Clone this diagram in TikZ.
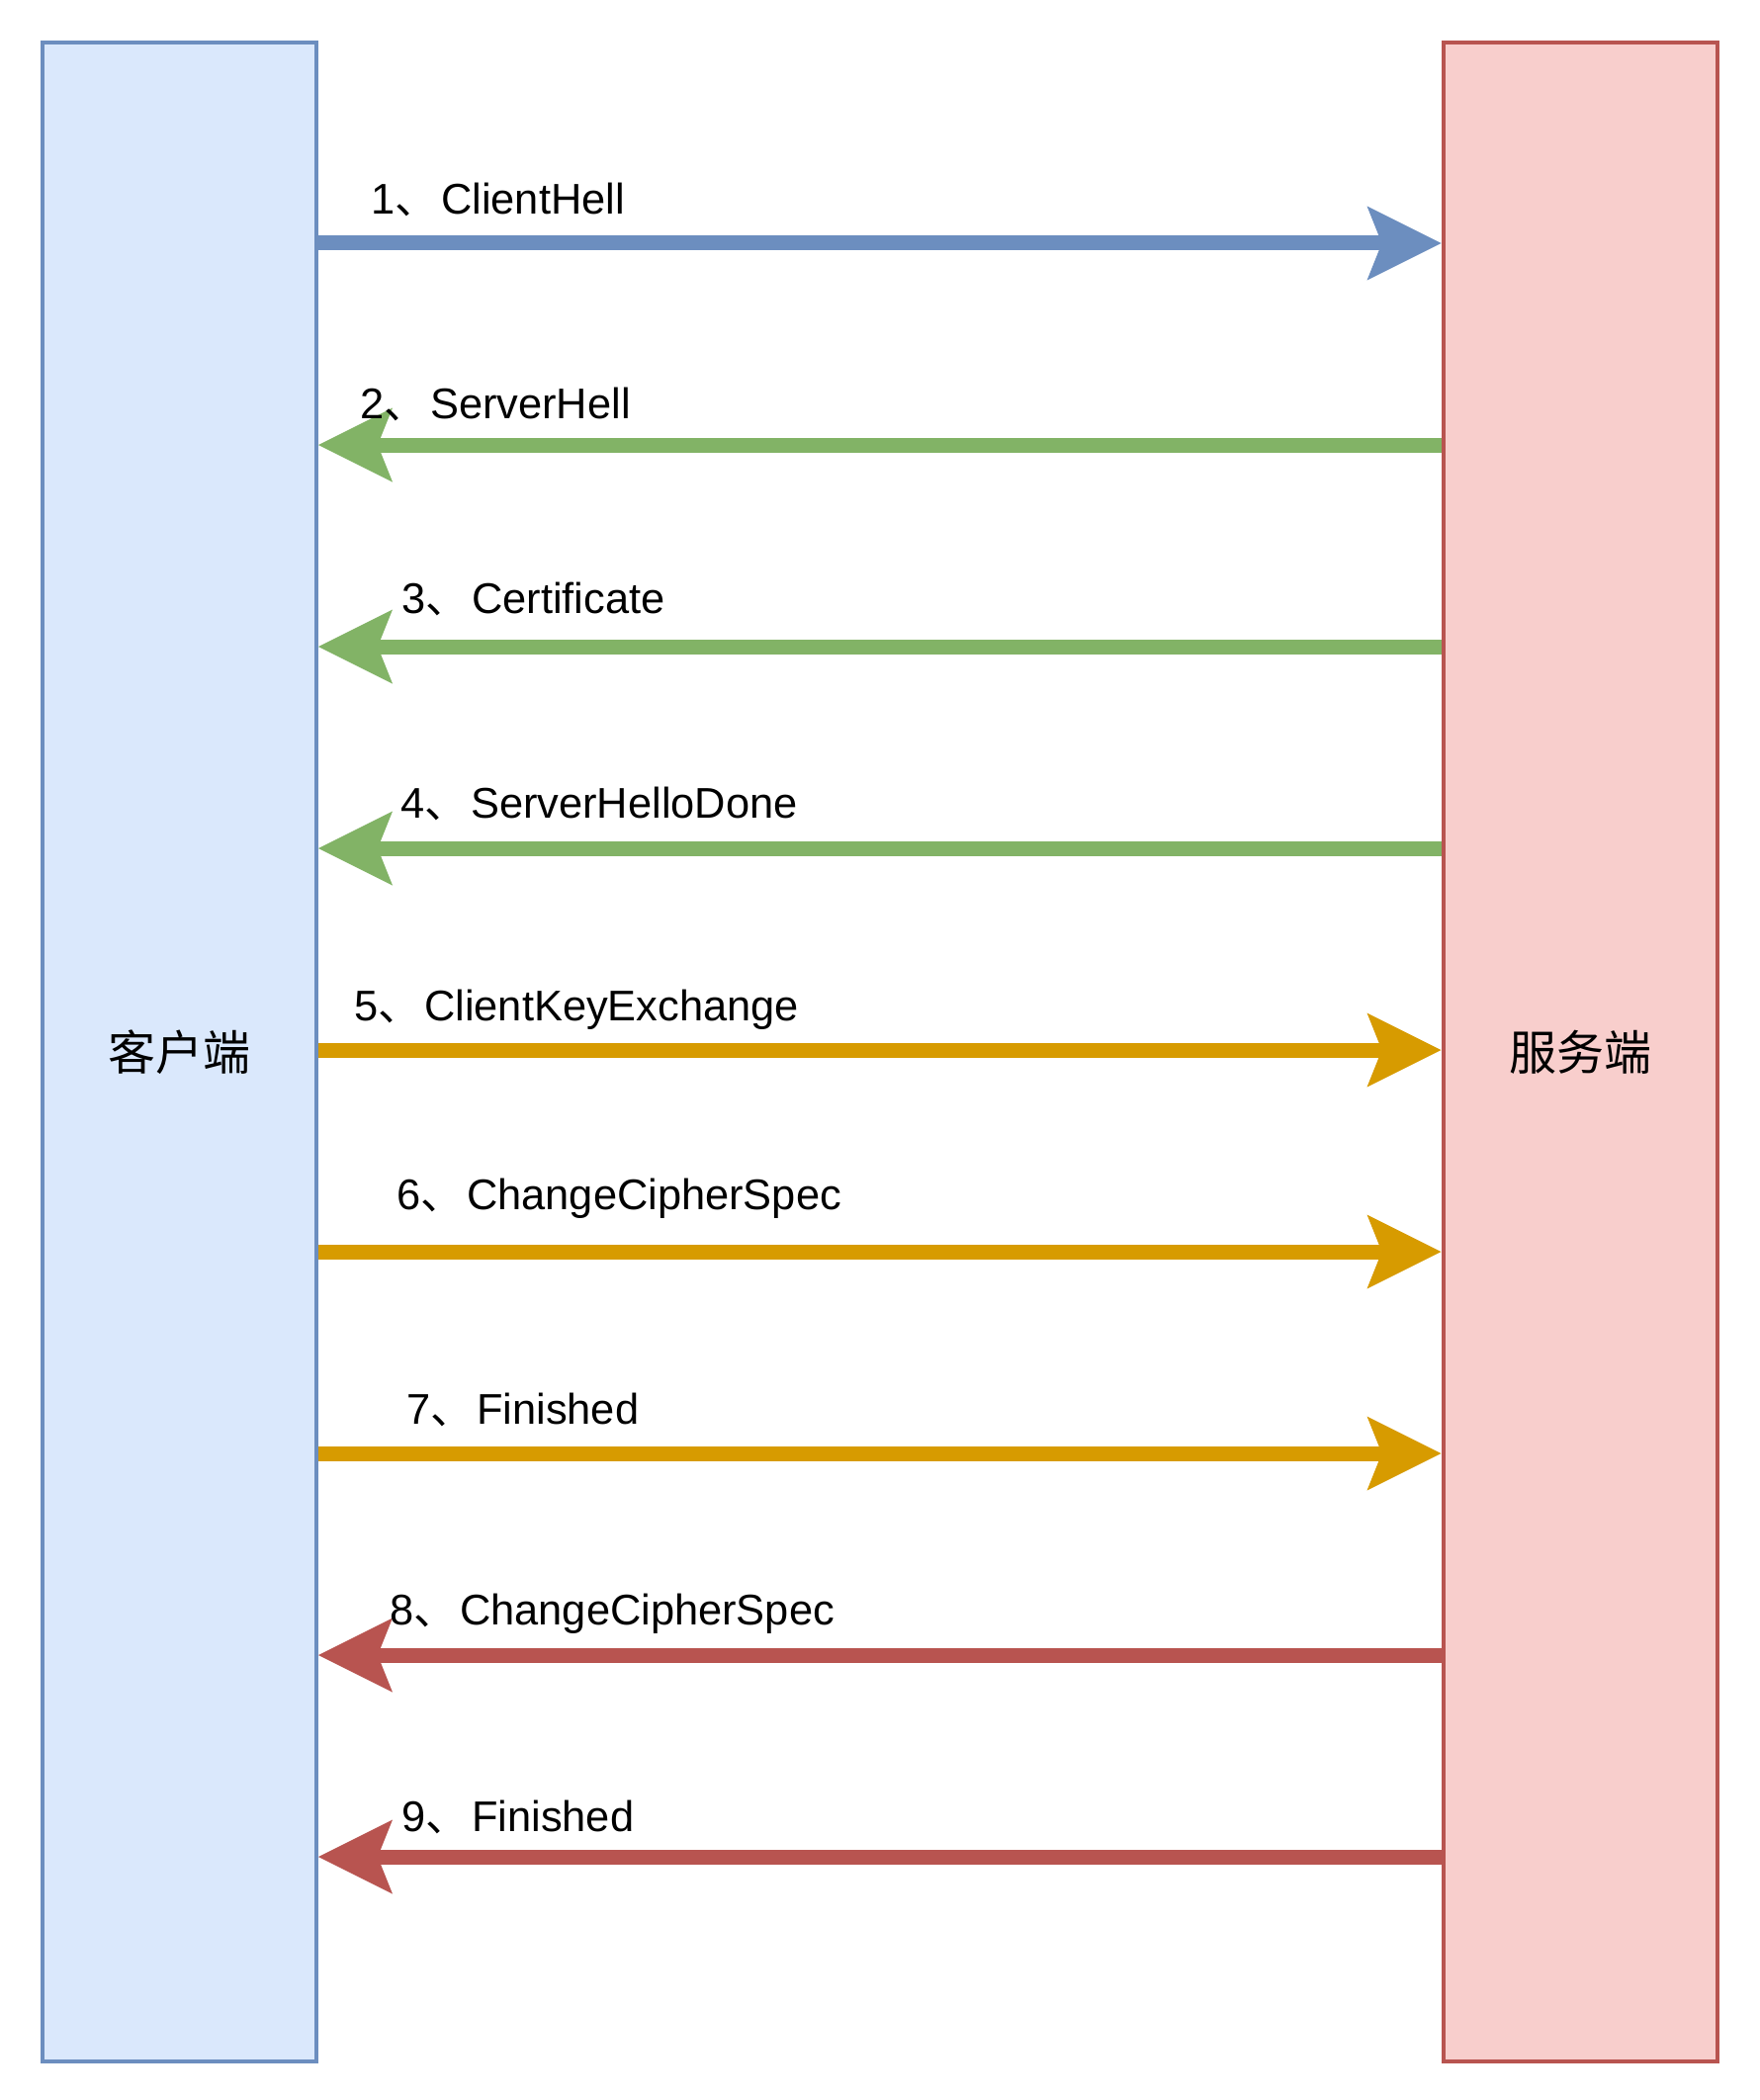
\documentclass[tikz,border=0pt]{standalone}
\usepackage{fontspec}
\setmainfont{Liberation Sans}
\newfontfamily\cjk{Noto Sans CJK SC}
\usetikzlibrary{arrows.meta}
\definecolor{cfill}{HTML}{DAE8FC}
\definecolor{cline}{HTML}{6C8EBF}
\definecolor{sfill}{HTML}{F8CECC}
\definecolor{sline}{HTML}{B85450}
\definecolor{garrow}{HTML}{82B366}
\definecolor{oarrow}{HTML}{D79B00}
\newcommand{\dun}{{\cjk 、}\kern1.8pt}
\tikzset{
  party/.style={rectangle, line width=2pt, inner sep=0pt,
    minimum width=138.5pt, minimum height=1021pt,
    font=\cjk\fontsize{24}{28}\selectfont},
  clientbox/.style={party, draw=cline, fill=cfill},
  serverbox/.style={party, draw=sline, fill=sfill},
  msg/.style={line width=7.5pt, line cap=butt,
    -{Stealth[length=37.5pt, width=37.5pt, inset=7.5pt, line width=0pt]}},
  msgblue/.style={msg, draw=cline, fill=cline},
  msggreen/.style={msg, draw=garrow, fill=garrow},
  msgorange/.style={msg, draw=oarrow, fill=oarrow},
  msgred/.style={msg, draw=sline, fill=sline},
  lbl/.style={anchor=base west, inner sep=0pt, outer sep=0pt,
    font=\fontsize{21.7}{26}\selectfont, text=black},
}
\begin{document}
\begin{tikzpicture}[x=0.5pt,y=-0.5pt]
\useasboundingbox[fill=white] (0,0) rectangle (1780,2124);

\node[clientbox] (client) at (181.5,1064) {客户端};
\node[serverbox] (server) at (1598,1064) {服务端};

\coordinate (r1) at (0,246);
\coordinate (r2) at (0,450);
\coordinate (r3) at (0,654);
\coordinate (r4) at (0,858);
\coordinate (r5) at (0,1062);
\coordinate (r6) at (0,1266);
\coordinate (r7) at (0,1470);
\coordinate (r8) at (0,1674);
\coordinate (r9) at (0,1878);

\draw[msgblue]   (client.east |- r1) -- (server.west |- r1);
\draw[msggreen]  (server.west |- r2) -- (client.east |- r2);
\draw[msggreen]  (server.west |- r3) -- (client.east |- r3);
\draw[msggreen]  (server.west |- r4) -- (client.east |- r4);
\draw[msgorange] (client.east |- r5) -- (server.west |- r5);
\draw[msgorange] (client.east |- r6) -- (server.west |- r6);
\draw[msgorange] (client.east |- r7) -- (server.west |- r7);
\draw[msgred]    (server.west |- r8) -- (client.east |- r8);
\draw[msgred]    (server.west |- r9) -- (client.east |- r9);

\node[lbl] (l1) at (375,217)  {1\dun ClientHell};
\node[lbl] (l2) at (364,423)  {2\dun ServerHell};
\node[lbl] (l3) at (406,620)  {3\dun Certificate};
\node[lbl] (l4) at (405,827)  {4\dun ServerHelloDone};
\node[lbl] (l5) at (358,1032) {5\dun ClientKeyExchange};
\node[lbl] (l6) at (401,1223) {6\dun ChangeCipherSpec};
\node[lbl] (l7) at (411,1440) {7\dun Finished};
\node[lbl] (l8) at (394,1643) {8\dun ChangeCipherSpec};
\node[lbl] (l9) at (406,1852) {9\dun Finished};
\end{tikzpicture}
\end{document}
